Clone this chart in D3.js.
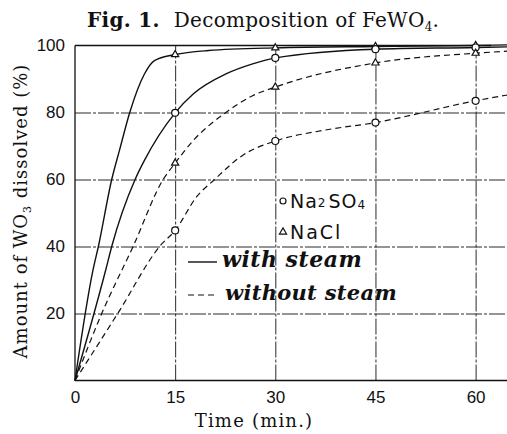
<!DOCTYPE html>
<meta charset="utf-8">
<style>
body { margin: 0; background: #fff; }
svg { display: block; font-family: "DejaVu Serif", serif; }
.grid line { stroke: #2a2a2a; stroke-width: 1; stroke-dasharray: 16,2,3,2; }
.grid .domain { display: none; }
.axis .domain { display: none; }
.axis text { font-size: 17px; fill: #111; }
.frame { stroke: #111; stroke-width: 1.3px; }
.curve { fill: none; stroke: #111; stroke-width: 1.4px; }
.dashed { stroke-dasharray: 6,4; stroke-width: 1.2px; }
.mark { fill: #fff; stroke: #111; stroke-width: 1.2px; }
</style>
<body>
<script src="https://d3js.org/d3.v7.min.js"></script>
<script>

// measured points (min, % dissolved)
var times = [0, 15, 30, 45, 60];
var naclSteam = [0, 97.3, 99.3, 99.7, 100];
var na2so4Steam = [0, 79.9, 96.3, 98.9, 99.4];
var naclNoSteam = [0, 64.9, 87.6, 94.8, 97.7];
var na2so4NoSteam = [0, 44.8, 71.5, 77.0, 83.5];

// hand-drawn curves
var naclSteamT = [0, 2.7, 3.5, 5.5, 6.7, 8.2, 10.4, 11.9, 15, 20, 30, 45, 60, 64.7];
var naclSteamV = [0, 33, 40, 60, 69, 80, 91.5, 95.5, 97.3, 98.5, 99.3, 99.7, 100, 100.2];
var na2so4SteamT = [0, 4.6, 5.5, 9.0, 10.4, 15, 17.7, 22.6, 26.6, 30, 45, 60, 64.7];
var na2so4SteamV = [0, 33, 40, 60, 65.7, 79.9, 85.5, 91.5, 94.5, 96.3, 98.9, 99.4, 99.6];
var naclNoSteamT = [0, 4, 8.7, 13.2, 15, 17.7, 22.6, 26.6, 30, 45, 60, 64.7];
var naclNoSteamV = [0, 20, 40, 60, 64.9, 71.6, 80, 85, 87.6, 94.8, 97.7, 98.3];
var na2so4NoSteamT = [0, 6.4, 12.8, 15, 18.2, 20.9, 25.1, 30, 37, 45, 60, 64.7];
var na2so4NoSteamV = [0, 20, 40.3, 44.8, 54.8, 60, 67.2, 71.5, 74.6, 77.0, 83.5, 85.2];

var xTicks = [0, 15, 30, 45, 60];
var yTicks = [20, 40, 60, 80, 100];

var W = 507, H = 434;
var x = d3.scaleLinear().domain([0, 64.7]).range([75, 507]);
var y = d3.scaleLinear().domain([0, 100]).range([380.5, 45.5]);

var svg = d3.select("body").append("svg")
    .attr("width", W)
    .attr("height", H);

// grid
svg.append("g")
    .attr("class", "grid")
    .attr("transform", "translate(0,380.5)")
    .call(d3.axisBottom(x).tickValues([15, 30, 45, 60]).tickSize(-335).tickFormat(""));
svg.append("g")
    .attr("class", "grid")
    .attr("transform", "translate(75,0)")
    .call(d3.axisLeft(y).tickValues([20, 40, 60, 80]).tickSize(-432).tickFormat(""));

// frame: left, bottom, top (100) line
svg.append("line").attr("class", "frame")
    .attr("x1", x(0)).attr("x2", x(0)).attr("y1", y(100)).attr("y2", y(0));
svg.append("line").attr("class", "frame")
    .attr("x1", x(0)).attr("x2", W).attr("y1", y(0)).attr("y2", y(0));
svg.append("line").attr("class", "frame")
    .attr("x1", x(0)).attr("x2", x(62.3)).attr("y1", y(100)).attr("y2", y(100));

// axes labels
svg.append("g")
    .attr("class", "axis")
    .attr("transform", "translate(0,380.5)")
    .call(d3.axisBottom(x).tickValues(xTicks).tickSize(0).tickPadding(10));
svg.append("g")
    .attr("class", "axis")
    .attr("transform", "translate(75,0)")
    .call(d3.axisLeft(y).tickValues(yTicks).tickSize(0).tickPadding(10));

// curves
var line = d3.line()
    .x(function(d) { return x(d[0]); })
    .y(function(d) { return y(d[1]); })
    .curve(d3.curveMonotoneX);

function zip(a, b) { return a.map(function(v, i) { return [v, b[i]]; }); }

var series = [
  {t: naclSteamT, v: naclSteamV, pts: naclSteam, dashed: false, sym: "tri"},
  {t: na2so4SteamT, v: na2so4SteamV, pts: na2so4Steam, dashed: false, sym: "circ"},
  {t: naclNoSteamT, v: naclNoSteamV, pts: naclNoSteam, dashed: true, sym: "tri"},
  {t: na2so4NoSteamT, v: na2so4NoSteamV, pts: na2so4NoSteam, dashed: true, sym: "circ"}
];

series.forEach(function(s) {
  svg.append("path")
      .datum(zip(s.t, s.v))
      .attr("class", s.dashed ? "curve dashed" : "curve")
      .attr("d", line);
});

var tri = d3.symbol().type(d3.symbolTriangle).size(22);
series.forEach(function(s) {
  var pts = zip(times, s.pts).slice(1);
  if (s.sym === "circ") {
    svg.selectAll(null)
      .data(pts)
      .enter().append("circle")
      .attr("class", "mark")
      .attr("cx", function(d) { return x(d[0]); })
      .attr("cy", function(d) { return y(d[1]); })
      .attr("r", 3.5);
  } else {
    svg.selectAll(null)
      .data(pts)
      .enter().append("path")
      .attr("class", "mark")
      .attr("d", tri)
      .attr("transform", function(d) { return "translate(" + x(d[0]) + "," + y(d[1]) + ")"; });
  }
});

// title
var title = svg.append("text")
    .attr("x", 87).attr("y", 27)
    .style("font-size", "20px").style("letter-spacing", "0.3px").attr("fill", "#111");
title.append("tspan").style("font-weight", "bold").text("Fig. 1.");
title.append("tspan").attr("dx", 14).text("Decomposition of FeWO");
title.append("tspan").attr("dy", 4).style("font-size", "12px").text("4");
title.append("tspan").attr("dy", -4).text(".");

// axis titles
svg.append("text")
    .attr("x", 254).attr("y", 427)
    .attr("text-anchor", "middle")
    .style("font-size", "18px").style("letter-spacing", "1.2px").attr("fill", "#111")
    .text("Time (min.)");

var yt = svg.append("text")
    .attr("transform", "translate(27,211) rotate(-90)")
    .attr("text-anchor", "middle")
    .style("font-size", "18px").style("letter-spacing", "1px").attr("fill", "#111");
yt.append("tspan").text("Amount of WO");
yt.append("tspan").attr("dy", 4).style("font-size", "11px").text("3");
yt.append("tspan").attr("dy", -4).text(" dissolved (%)");

// legend
var leg = svg.append("g").attr("fill", "#111");
leg.append("circle").attr("class", "mark").attr("cx", 283).attr("cy", 201).attr("r", 3);
var l1 = leg.append("text").attr("x", 290).attr("y", 208)
    .style("font-family", "'DejaVu Sans', sans-serif").style("font-size", "19px")
    .style("letter-spacing", "1px");
l1.append("tspan").text("Na");
l1.append("tspan").attr("dy", -1).style("font-size", "12px").text("2");
l1.append("tspan").attr("dy", 1).attr("dx", 2).text("SO");
l1.append("tspan").attr("dy", 1).style("font-size", "12px").text("4");

leg.append("path").attr("class", "mark").attr("d", tri)
    .attr("transform", "translate(283,232)");
leg.append("text").attr("x", 290).attr("y", 239)
    .style("font-family", "'DejaVu Sans', sans-serif").style("font-size", "19px")
    .style("letter-spacing", "2px")
    .text("NaCl");

leg.append("line").attr("class", "curve")
    .attr("x1", 188).attr("x2", 217).attr("y1", 262).attr("y2", 262);
leg.append("text").attr("x", 222).attr("y", 267)
    .style("font-style", "italic").style("font-weight", "bold")
    .style("font-size", "22px").style("letter-spacing", "0.5px")
    .text("with steam");

leg.append("line").attr("class", "curve dashed")
    .attr("x1", 188).attr("x2", 218).attr("y1", 295).attr("y2", 295);
leg.append("text").attr("x", 225).attr("y", 300)
    .style("font-style", "italic").style("font-weight", "bold")
    .style("font-size", "21px").style("letter-spacing", "0.3px")
    .text("without steam");

</script>
</body>
